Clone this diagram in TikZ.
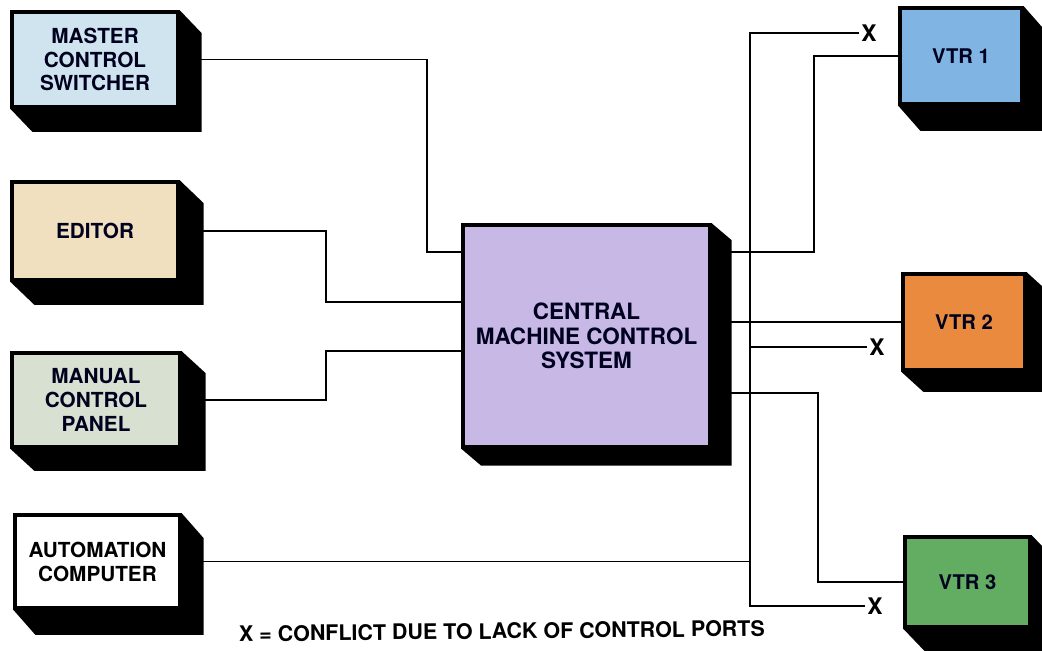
\documentclass[tikz,border=0pt]{standalone}
\usepackage{fontspec}
\setmainfont{TeX Gyre Heros}
\usepackage{tikz}
\usetikzlibrary{calc}
\pgfdeclarelayer{background}
\pgfsetlayers{background,main}
\definecolor{mcsblue}{HTML}{CFE4EE}
\definecolor{edtan}{HTML}{F1E0BF}
\definecolor{mangreen}{HTML}{D8E0D1}
\definecolor{cmclav}{HTML}{C7B8E6}
\definecolor{vtrblue}{HTML}{80B4E3}
\definecolor{vtrorange}{HTML}{E98A3E}
\definecolor{vtrgreen}{HTML}{62AD62}
\newcommand{\boxfont}{\fontsize{11.8}{13.6}\selectfont\bfseries}

\begin{document}
\begin{tikzpicture}[x=0.02cm,y=-0.02cm,
  block/.style={draw=black,line width=2pt,align=center,inner sep=0pt,
    font=\boxfont,text=black!88!blue},
  wire/.style={line width=1.1pt},
  clash/.style={font=\fontsize{13}{13}\selectfont\bfseries,inner sep=1pt}]
  \useasboundingbox (0,0) rectangle (1042,650);
  % sources on the left
  \node[block,fill=mcsblue,minimum width=3.32cm,minimum height=1.9cm] (master) at (95,59.5) {MASTER\\CONTROL\\SWITCHER};
  \node[block,fill=edtan,minimum width=3.32cm,minimum height=1.96cm] (editor) at (95,231) {EDITOR};
  \node[block,fill=mangreen,minimum width=3.36cm,minimum height=1.88cm] (manual) at (96,400) {MANUAL\\CONTROL\\PANEL};
  \node[block,fill=white,text=black,minimum width=3.3cm,minimum height=1.86cm] (auto) at (97.5,561.5) {AUTOMATION\\COMPUTER};
  % central unit
  \node[block,fill=cmclav,minimum width=4.94cm,minimum height=4.44cm,font=\fontsize{12.8}{13.8}\selectfont\bfseries] (central) at (586.5,336) {CENTRAL\\MACHINE CONTROL\\SYSTEM};
  % machines on the right
  \node[block,fill=vtrblue,minimum width=2.44cm,minimum height=1.92cm,font=\fontsize{11.5}{12}\selectfont\bfseries] (vtr1) at (961,56) {VTR 1};
  \node[block,fill=vtrorange,minimum width=2.44cm,minimum height=1.92cm,font=\fontsize{11.5}{12}\selectfont\bfseries] (vtr2) at (964,322) {VTR 2};
  \node[block,fill=vtrgreen,minimum width=2.5cm,minimum height=1.8cm,font=\fontsize{11.5}{12}\selectfont\bfseries] (vtr3) at (967.5,582) {VTR 3};
  % conflict marks
  \node[clash] (xa) at (869,33) {X};
  \node[clash] (xb) at (877,347) {X};
  \node[clash] (xc) at (875,606) {X};
  \node[font=\fontsize{12.2}{12}\selectfont\bfseries,rotate=0.6] (key) at (502,631) {X = CONFLICT DUE TO LACK OF CONTROL PORTS};
  % extruded sides
  \begin{pgfonlayer}{background}
    \foreach \b/\dx/\dy in {master/22/23,editor/24/23,manual/24/22,auto/22/25,
        central/20/17,vtr1/22/25,vtr2/22/20,vtr3/22/23}
      \fill[black] (\b.north west) -- (\b.north east) -- ++(\dx,\dy)
        -- ($(\b.south east)+(\dx,\dy)$) -- ($(\b.south west)+(\dx,\dy)$)
        -- (\b.south west) -- cycle;
  \end{pgfonlayer}
  % wiring into the central unit
  \draw[wire] (master.east) -- ++(247,0) |- ([yshift=1.68cm]central.west);
  \draw[wire] (editor.east) -- ++(146,0) |- ([yshift=0.68cm]central.west);
  \draw[wire] (manual.east) -- ++(144,0) |- ([yshift=-0.3cm]central.west);
  % wiring out to the machines
  \draw[wire] ([yshift=1.68cm]central.east) -- ++(102,0) |- (vtr1.west);
  \draw[wire] (central.east |- vtr2.west) -- (vtr2.west);
  \draw[wire] ([yshift=-1.14cm]central.east) -- ++(106,0) |- (vtr3.west);
  % automation bus
  \coordinate (bustop) at (750,33);
  \coordinate (busbot) at (750,606);
  \draw[wire] (xa.west) -- (bustop) -- (busbot) -- (xc.west);
  \draw[wire] (xb.west) -- (xb.west -| bustop);
  \draw[wire] (auto.east) -- (auto.east -| bustop);
\end{tikzpicture}
\end{document}
